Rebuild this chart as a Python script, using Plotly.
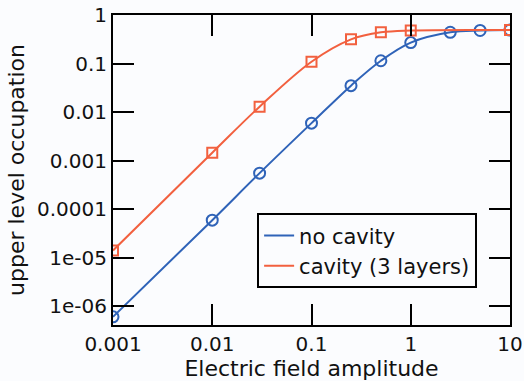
import plotly.graph_objects as go

field_nc = [0.001, 0.01, 0.03, 0.1, 0.25, 0.5, 1, 2.5, 5, 10]
occ_nc = [6.0e-7, 5.9e-5, 5.5e-4, 5.9e-3, 0.035, 0.114, 0.27, 0.44, 0.48, 0.49]

field_cav = [0.001, 0.01, 0.03, 0.1, 0.25, 0.5, 1, 10]
occ_cav = [1.4e-5, 1.45e-3, 0.0129, 0.109, 0.315, 0.44, 0.48, 0.49]

xticks = [0.001, 0.01, 0.1, 1, 10]
xlabels = ["0.001", "0.01", "0.1", "1", "10"]
yticks = [1e-6, 1e-5, 1e-4, 1e-3, 1e-2, 0.1, 1]
ylabels = ["1e-06", "1e-05", "0.0001", "0.001", "0.01", "0.1", "1"]

blue = "#2f63b8"
red = "#f2603f"
font_family = "DejaVu Sans, sans-serif"

fig = go.Figure()
fig.add_trace(go.Scatter(x=field_nc, y=occ_nc, mode="lines+markers", line=dict(color=blue, width=2, shape="spline"),
                         marker=dict(symbol="circle-open", size=11, color=blue, line=dict(width=2)), showlegend=False))
fig.add_trace(go.Scatter(x=field_cav, y=occ_cav, mode="lines+markers", line=dict(color=red, width=2, shape="spline"),
                         marker=dict(symbol="square-open", size=10, color=red, line=dict(width=2)), showlegend=False))
fig.add_trace(go.Scatter(x=[None], y=[None], mode="lines", line=dict(color=blue, width=2), name="no cavity"))
fig.add_trace(go.Scatter(x=[None], y=[None], mode="lines", line=dict(color=red, width=2), name="cavity (3 layers)"))

axis_common = dict(type="log", showgrid=False, zeroline=False, showline=True, linecolor="black", linewidth=2,
                   ticks="inside", ticklen=21, tickwidth=2, tickcolor="black", mirror="ticks", automargin=False,
                   tickfont=dict(size=20, color="#111111", family=font_family))
fig.update_xaxes(**axis_common, range=[-3, 1], tickvals=xticks, ticktext=xlabels,
                 title=dict(text="Electric field amplitude", font=dict(size=22, color="#111111", family=font_family), standoff=0))
fig.update_yaxes(**axis_common, range=[-6.39, 0], tickvals=yticks, ticktext=ylabels,
                 title=dict(text="upper level occupation", font=dict(size=22, color="#111111", family=font_family), standoff=6))

fig.update_layout(width=524, height=381, margin=dict(l=113, r=14, t=15, b=56),
                  paper_bgcolor="#fbfcfe", plot_bgcolor="#fbfcfe",
                  font=dict(family=font_family, color="#111111"),
                  legend=dict(x=0.363, y=0.36, xanchor="left", yanchor="top", bordercolor="black", borderwidth=2,
                              bgcolor="#fbfcfe", font=dict(size=21, family=font_family, color="#111111"),
                              itemwidth=30, tracegroupgap=0))
fig.write_html("out.html", config={"displayModeBar": False},
               post_script="document.body.style.margin='0';document.body.style.overflow='hidden';")
